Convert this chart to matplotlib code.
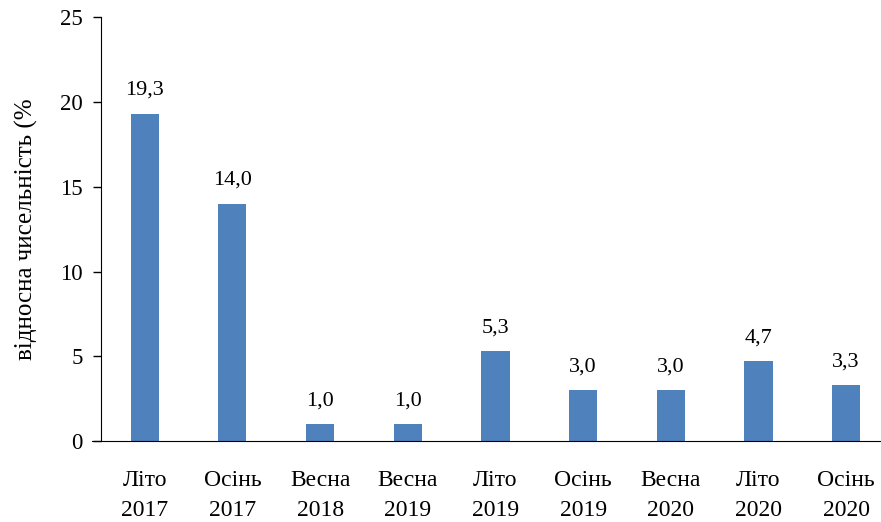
import matplotlib.pyplot as plt

plt.rcParams['font.family'] = ['Liberation Serif', 'DejaVu Serif']

categories = ["Літо\n2017", "Осінь\n2017", "Весна\n2018", "Весна\n2019", "Літо\n2019",
              "Осінь\n2019", "Весна\n2020", "Літо\n2020", "Осінь\n2020"]
values = [19.3, 14.0, 1.0, 1.0, 5.3, 3.0, 3.0, 4.7, 3.3]

fig = plt.figure(figsize=(8.81, 5.22), dpi=100)
ax = fig.add_axes([0.1146, 0.155, 0.8956, 0.812])

x = range(len(categories))
bars = ax.bar(x, values, width=0.32, color='#4F81BD', zorder=2)

for xi, v in zip(x, values):
    ax.annotate(("%.1f" % v).replace('.', ','), (xi, v), xytext=(0, 10),
                textcoords='offset points', ha='center', va='bottom', fontsize=16)

ax.set_xlim(-0.5, len(categories) - 0.5)
ax.set_ylim(0, 25)
ax.set_yticks([0, 5, 10, 15, 20, 25])
ax.set_xticks(list(x))
ax.set_xticklabels(categories, fontsize=17, linespacing=1.58)
ax.tick_params(axis='x', length=0, pad=20.5)
ax.tick_params(axis='y', length=6, width=1, pad=7, labelsize=16.5, direction='out')

ax.spines['top'].set_visible(False)
ax.spines['right'].set_visible(False)
ax.spines['bottom'].set_bounds(-0.6, len(categories) - 0.5)

ax.set_ylabel("відносна чисельність (%", fontsize=18, labelpad=16)

fig.savefig("out.png", dpi=100)
